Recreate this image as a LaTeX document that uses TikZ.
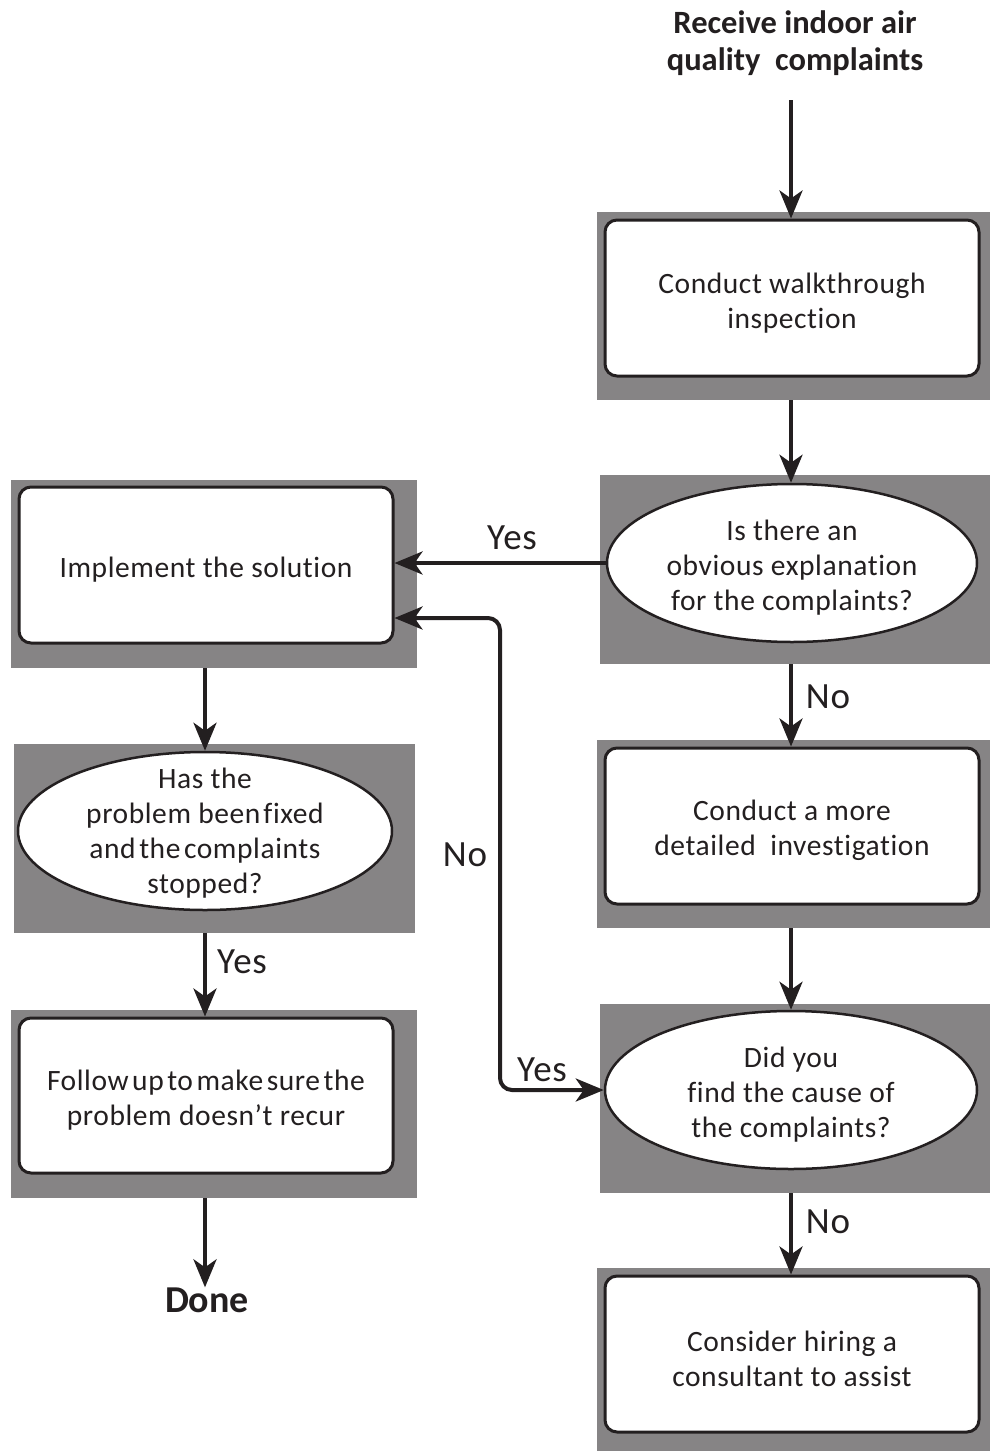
\documentclass[tikz,border=0pt]{standalone}
\usepackage{fontspec}
\setmainfont{Carlito}[Ligatures={NoCommon},LetterSpace=2]
\newfontfamily\titlefont{Carlito}[Ligatures={NoCommon}]
\usetikzlibrary{arrows.meta,shapes.geometric,calc}
\definecolor{shade}{RGB}{134,132,133}
\definecolor{ink}{RGB}{35,31,32}
\tikzset{
  graybox/.style={fill=shade,draw=none,inner sep=0pt},
  whitebox/.style={draw=ink,fill=white,line width=3pt,rounded corners=12pt,minimum width=374pt,minimum height=156pt,inner sep=0pt,align=center,font=\fontsize{29.5}{35}\selectfont,text=ink},
  oval/.style={ellipse,draw=ink,fill=white,line width=2.5pt,inner sep=0pt,align=center,font=\fontsize{29.5}{35}\selectfont,text=ink},
  plaintext/.style={inner sep=0pt,align=center,font=\fontsize{29.5}{35}\selectfont,text=ink},
  arr/.style={draw=ink,line width=4pt,-{Stealth[length=28pt,width=23pt,inset=8pt]}},
  arrboth/.style={draw=ink,line width=4pt,{Stealth[length=28pt,width=23pt,inset=8pt]}-{Stealth[length=28pt,width=23pt,inset=8pt]},rounded corners=12pt},
  lbl/.style={font=\fontsize{37}{42}\selectfont,text=ink,inner sep=0pt},
  bold/.style={font=\titlefont\fontsize{32.5}{37}\selectfont\bfseries,text=ink,align=center,inner sep=0pt}
}
\begin{document}
\begin{tikzpicture}[x=1pt,y=-1pt]
\useasboundingbox (0,0) rectangle (990,1451);
\fill[white] (0,0) rectangle (990,1451);
% gray backgrounds
\node[graybox,minimum width=393pt,minimum height=188pt] (g1) at (793.5,306) {};
\node[graybox,minimum width=390pt,minimum height=189pt] (g2) at (795,569.5) {};
\node[graybox,minimum width=406pt,minimum height=188pt] (g3) at (214,574) {};
\node[graybox,minimum width=401pt,minimum height=189pt] (g4) at (214.5,838.5) {};
\node[graybox,minimum width=406pt,minimum height=188pt] (g5) at (214,1104) {};
\node[graybox,minimum width=393pt,minimum height=188pt] (g6) at (793.5,834) {};
\node[graybox,minimum width=390pt,minimum height=189pt] (g7) at (795,1098.5) {};
\node[graybox,minimum width=393pt,minimum height=183pt] (g8) at (793.5,1359.5) {};
% title
\node[bold] (title) at (795,43) {Receive indoor air\\quality\ \ complaints};
\coordinate (t0) at (791,100);
% boxes
\node[whitebox] (b1) at (792,298) {\rule{0pt}{30pt}Conduct walkthrough\\inspection};
\node[oval,minimum width=370pt,minimum height=158pt] (e2) at (792,563) {\rule{0pt}{30pt}Is there an\\obvious explanation\\for the complaints?};
\node[whitebox] (b3) at (206,565) {\rule{0pt}{30pt}Implement the solution};
\node[oval,minimum width=374pt,minimum height=158pt] (e4) at (205,831) {};
\node[plaintext] (e4t) at (205,833) {Has the\\problem been\hspace{0.1em}fixed\\and\hspace{0.12em}the\hspace{0.12em}complaints\\stopped?};
\node[whitebox,minimum height=155pt] (b5) at (206,1095.5) {\rule{0pt}{30pt}Follow\hspace{0.12em}up\hspace{0.12em}to\hspace{0.12em}make\hspace{0.12em}sure\hspace{0.12em}the\\problem doesn't recur};
\node[whitebox] (b6) at (792,826) {\rule{0pt}{30pt}Conduct a more\\detailed\ \ investigation};
\node[oval,minimum width=372pt,minimum height=158pt] (e7) at (791,1090) {\rule{0pt}{30pt}Did you\\find the cause of\\the complaints?};
\node[whitebox] (b8) at (792,1354) {\rule{0pt}{30pt}Consider hiring a\\consultant to assist};
\node[bold,font=\titlefont\fontsize{38}{42}\selectfont\bfseries] (done) at (207,1300) {Done};
% connectors
\draw[arr] (t0) -- (b1.north -| t0);
\draw[arr] (g1.south -| t0) -- (e2.north -| t0);
\draw[arr] (e2.west) -- (b3.east |- e2.west);
\node[lbl] (yes1) at (512,538) {Yes};
\draw[arr] (g2.south -| t0) -- (b6.north -| t0);
\node[lbl] (no1) at (828,697) {No};
\draw[arr] (g6.south -| t0) -- (e7.north -| t0);
\draw[arr] (g7.south -| t0) -- (b8.north -| t0);
\node[lbl] (no2) at (828,1222) {No};
\draw[arr] (g3.south -| e4.north) -- (e4.north);
\draw[arr] (g4.south -| e4.north) -- (b5.north -| e4.north);
\node[lbl] (yes2) at (242,962) {Yes};
\draw[arr] (g5.south -| e4.north) -- (done.north -| e4.north);
\coordinate (loopx) at (500,0);
\coordinate (b3in) at ([yshift=-53pt]b3.east);
\draw[arrboth] (e7.west) -- (e7.west -| loopx) -- (loopx |- b3in) -- (b3in);
\node[lbl] (no3) at (465,855) {No};
\node[lbl] (yes3) at (542,1070) {Yes};
\end{tikzpicture}
\end{document}
